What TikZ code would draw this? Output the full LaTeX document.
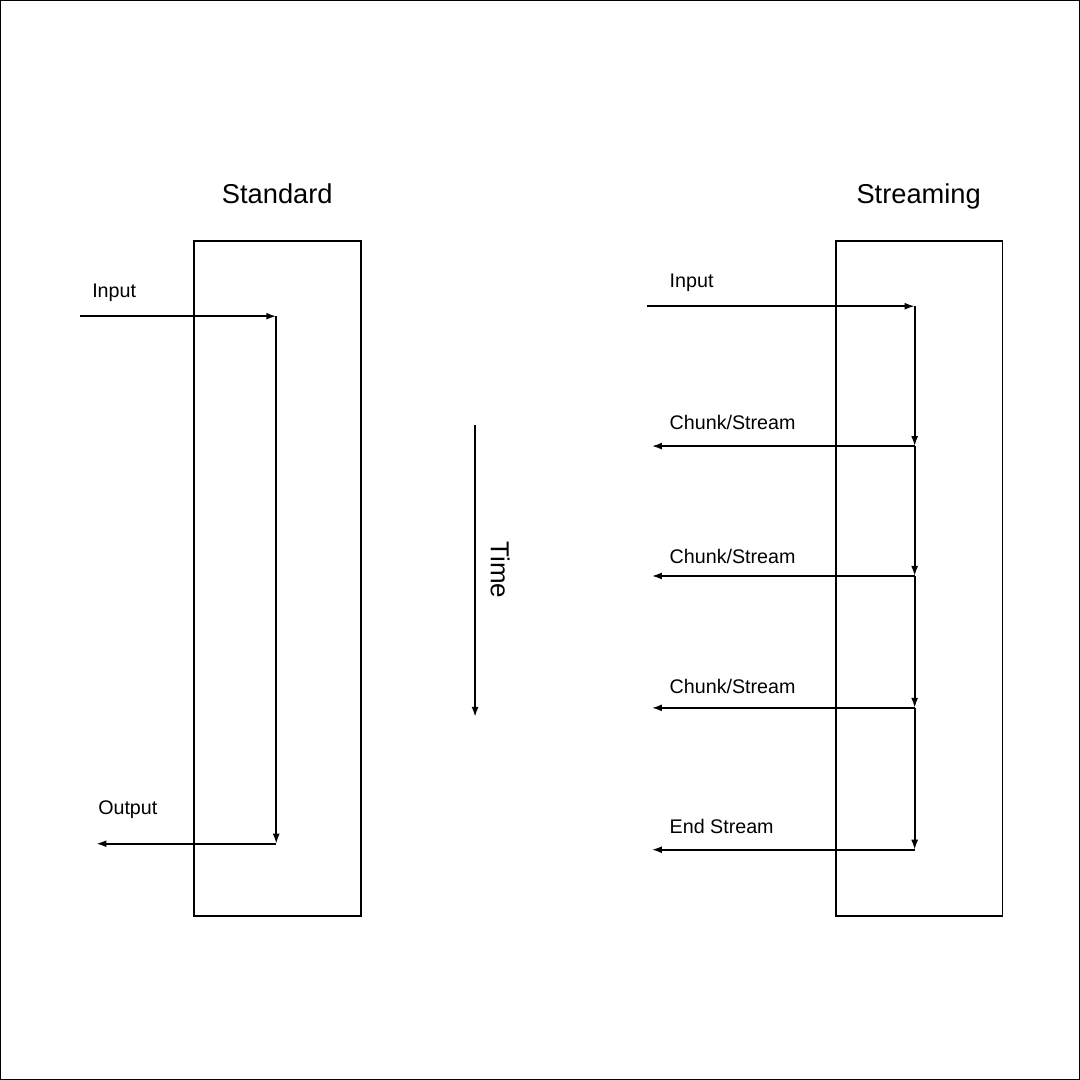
\documentclass[tikz,border=0pt]{standalone}
\usepackage{fontspec}
\setmainfont{Liberation Sans}
\usetikzlibrary{arrows.meta}

\begin{document}
\begin{tikzpicture}[x=1pt,y=-1pt,line width=1.7pt,
                    every node/.style={inner sep=0pt},
                    box/.style={draw,minimum width=167pt,minimum height=675pt},
                    lbl/.style={anchor=base west,font=\fontsize{19.7}{22}\selectfont},
                    ttl/.style={anchor=base,font=\fontsize{27.3}{30}\selectfont},
                    flow/.style={-{Latex[length=10pt,width=7pt]}}]
  % frame of the page
  \draw[line width=1pt] (0,0) rectangle (1080,1080);
  % Standard: one input, one output
  \node[ttl] (stdtitle) at (277,203) {Standard};
  \node[box] (stdbox) at (277.5,578.5) {};
  \node[lbl] (stdin)  at (91,297) {Input};
  \node[lbl] (stdout) at (97,815) {Output};
  \coordinate (s0) at (80,316);
  \coordinate (s1) at (276,316);
  \coordinate (s2) at (276,844);
  \coordinate (s3) at (96,844);
  \draw[flow] (s0) -- (s1);
  \draw[flow] (s1) -- (s2);
  \draw[flow] (s2) -- (s3);
  % time axis
  \coordinate (t0) at (475,425);
  \coordinate (t1) at (475,717);
  \draw[flow] (t0) -- (t1);
  \node[rotate=-90,font=\fontsize{26}{30}\selectfont] (time) at (500,570) {Time};
  % Streaming: one input, several chunks
  \node[ttl] (strtitle) at (919,203) {Streaming};
  \node[box] (strbox) at (919.5,578.5) {};
  \node[lbl] (strin) at (669,287) {Input};
  \coordinate (r0) at (647,306);
  \coordinate (k0) at (915,306);
  \draw[flow] (r0) -- (k0);
  \foreach \i/\y/\b/\txt in {1/446/429/Chunk\slash Stream,2/576/564/Chunk\slash Stream,
                             3/708/694/Chunk\slash Stream,4/850/834/End Stream}{
    \pgfmathtruncatemacro\j{\i-1}
    \coordinate (k\i) at (915,\y);
    \coordinate (o\i) at (652,\y);
    \node[lbl] (chunk\i) at (669,\b) {\txt};
    \draw[flow] (k\j) -- (k\i);
    \draw[flow] (k\i) -- (o\i);
  }
\end{tikzpicture}
\end{document}
